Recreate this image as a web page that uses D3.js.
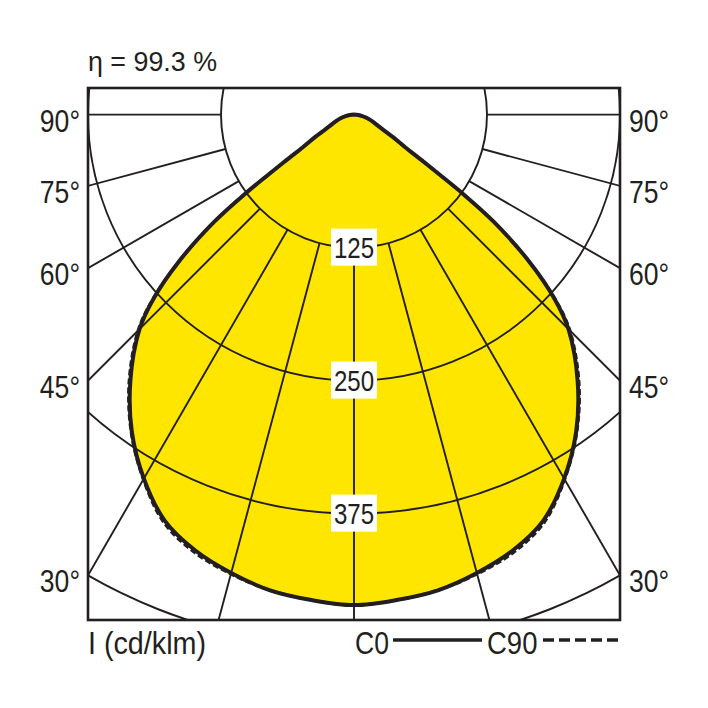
<!DOCTYPE html>
<html>
<head>
<meta charset="utf-8">
<script src="https://cdn.jsdelivr.net/npm/d3@7"></script>
<style>
  html, body { margin: 0; padding: 0; background: #fff; }
  svg { display: block; }
  text { font-family: 'Liberation Sans', Arial, Helvetica, sans-serif; fill: #231f20; }
</style>
</head>
<body>
<div id="chart"></div>
<script>
/* Polar light distribution curve, C0 / C90 planes */

// gamma angles (deg from nadir) and luminous intensity in cd/klm
const ANGLES = [0, 5, 10, 15, 20, 25, 30, 35, 40, 45, 47.5, 50, 52.5, 54, 55, 56, 57.5, 60, 62.5, 65, 70, 75, 80, 85, 90];
const C0 =     [461, 458, 454, 446, 436, 421, 395, 364, 327, 285, 255, 215, 166, 126, 97, 77, 57, 42, 31, 25, 18, 12.6, 8, 4, 0];
const C90 =    [461, 458, 454, 447, 438, 423, 396, 365, 329, 287, 256, 215, 166, 126, 97, 77, 57, 42, 31, 25, 18, 12.6, 8, 4, 0];

const RINGS = [125, 250, 375, 500];
const RING_LABELS = ['125', '250', '375'];
const SPOKES = [0, 15, 30, 45, 60, 75, 90];
const ANGLE_LABELS = [90, 75, 60, 45, 30];

const INK = '#231f20';
const YELLOW = '#ffe600';
const NARROW = 0.83;   // condensed look of the original lettering

const W = 708, H = 708;
const frame = { x0: 88, x1: 620, y0: 88, y1: 620 };

const x = d3.scaleLinear().domain([-250, 250]).range([frame.x0, frame.x1]);
const y = d3.scaleLinear().domain([-25, 475]).range([frame.y0, frame.y1]);
const r = d3.scaleLinear().domain([0, 500]).range([0, x(500) - x(0)]);
const cx = x(0), cy = y(0);
const rad = d => d * Math.PI / 180;

const svg = d3.select('#chart').append('svg')
  .attr('width', W).attr('height', H)
  .attr('viewBox', `0 0 ${W} ${H}`);

svg.append('defs').append('clipPath').attr('id', 'frameClip')
  .append('rect')
  .attr('x', frame.x0).attr('y', frame.y0)
  .attr('width', frame.x1 - frame.x0).attr('height', frame.y1 - frame.y0);

const plot = svg.append('g').attr('clip-path', 'url(#frameClip)');
const polar = plot.append('g').attr('transform', `translate(${cx},${cy})`);

// full closed curve: left half from 90 down to nadir, then right half up to 90
function curvePoints(vals) {
  const left = ANGLES.map((a, i) => [Math.PI + rad(a), r(vals[i])]).reverse();
  const right = ANGLES.slice(1).map((a, i) => [Math.PI - rad(a), r(vals[i + 1])]);
  return left.concat(right);
}

const radial = d3.lineRadial()
  .angle(d => d[0])
  .radius(d => d[1])
  .curve(d3.curveCatmullRom.alpha(0.5));

// yellow fill
polar.append('path')
  .attr('d', radial(curvePoints(C0)) + 'Z')
  .attr('fill', YELLOW)
  .attr('stroke', 'none');

// grid rings
polar.selectAll('circle.ring')
  .data(RINGS)
  .join('circle')
  .attr('class', 'ring')
  .attr('r', d => r(d))
  .attr('fill', 'none')
  .attr('stroke', INK)
  .attr('stroke-width', 1.9);

// spokes, both sides, from the first ring outwards
const spokeData = [];
SPOKES.forEach(a => {
  spokeData.push(a);
  if (a !== 0) spokeData.push(-a);
});
polar.selectAll('line.spoke')
  .data(spokeData)
  .join('line')
  .attr('class', 'spoke')
  .attr('x1', d => r(RINGS[0]) * Math.sin(rad(d)))
  .attr('y1', d => r(RINGS[0]) * Math.cos(rad(d)))
  .attr('x2', d => r(800) * Math.sin(rad(d)))
  .attr('y2', d => r(800) * Math.cos(rad(d)))
  .attr('stroke', INK)
  .attr('stroke-width', 1.9);

// curves
polar.append('path')
  .attr('d', radial(curvePoints(C0)))
  .attr('fill', 'none')
  .attr('stroke', INK)
  .attr('stroke-width', 4)
  .attr('stroke-linejoin', 'round');

polar.append('path')
  .attr('d', radial(curvePoints(C90)))
  .attr('fill', 'none')
  .attr('stroke', INK)
  .attr('stroke-width', 3)
  .attr('stroke-dasharray', '6,3');

// text helper: condensed by a horizontal scale
function label(parent, tx, ty, size, str, anchor, sx) {
  return parent.append('text')
    .attr('transform', `translate(${tx},${ty}) scale(${sx || NARROW},1)`)
    .attr('text-anchor', anchor || 'start')
    .attr('font-size', size)
    .text(str);
}

// ring value labels on the nadir axis
RING_LABELS.forEach(v => {
  const g = polar.append('g').attr('transform', `translate(0,${r(+v)})`);
  g.append('rect')
    .attr('x', -23).attr('y', -19)
    .attr('width', 46).attr('height', 37)
    .attr('fill', '#fff');
  label(g, 0, 10.5, 29, v, 'middle');
});

// frame
svg.append('rect')
  .attr('x', frame.x0).attr('y', frame.y0)
  .attr('width', frame.x1 - frame.x0).attr('height', frame.y1 - frame.y0)
  .attr('fill', 'none')
  .attr('stroke', INK)
  .attr('stroke-width', 2.6);

// angle labels where the spokes meet the side edges
const edgeY = a => a === 90 ? 0 : 250 / Math.tan(rad(a));
ANGLE_LABELS.forEach(a => {
  label(svg, frame.x0 - 8, y(edgeY(a)) + 17, 32, a + '°', 'end');
  label(svg, frame.x1 + 9, y(edgeY(a)) + 17, 32, a + '°', 'start');
});

// efficiency
svg.append('text')
  .attr('x', frame.x0).attr('y', 71)
  .attr('font-size', 27)
  .attr('textLength', 129)
  .attr('lengthAdjust', 'spacingAndGlyphs')
  .text('η = 99.3 %');

// bottom: unit and legend
svg.append('text')
  .attr('x', frame.x0).attr('y', 654)
  .attr('font-size', 32)
  .attr('textLength', 118)
  .attr('lengthAdjust', 'spacingAndGlyphs')
  .text('I (cd/klm)');

label(svg, 355, 654, 32, 'C0', 'start');
svg.append('line')
  .attr('x1', 393).attr('x2', 482)
  .attr('y1', 640).attr('y2', 640)
  .attr('stroke', INK).attr('stroke-width', 3.5);
label(svg, 487, 654, 32, 'C90', 'start', 0.86);
svg.append('line')
  .attr('x1', 543).attr('x2', 618)
  .attr('y1', 640).attr('y2', 640)
  .attr('stroke', INK).attr('stroke-width', 3.5)
  .attr('stroke-dasharray', '11,5');
</script>
</body>
</html>
